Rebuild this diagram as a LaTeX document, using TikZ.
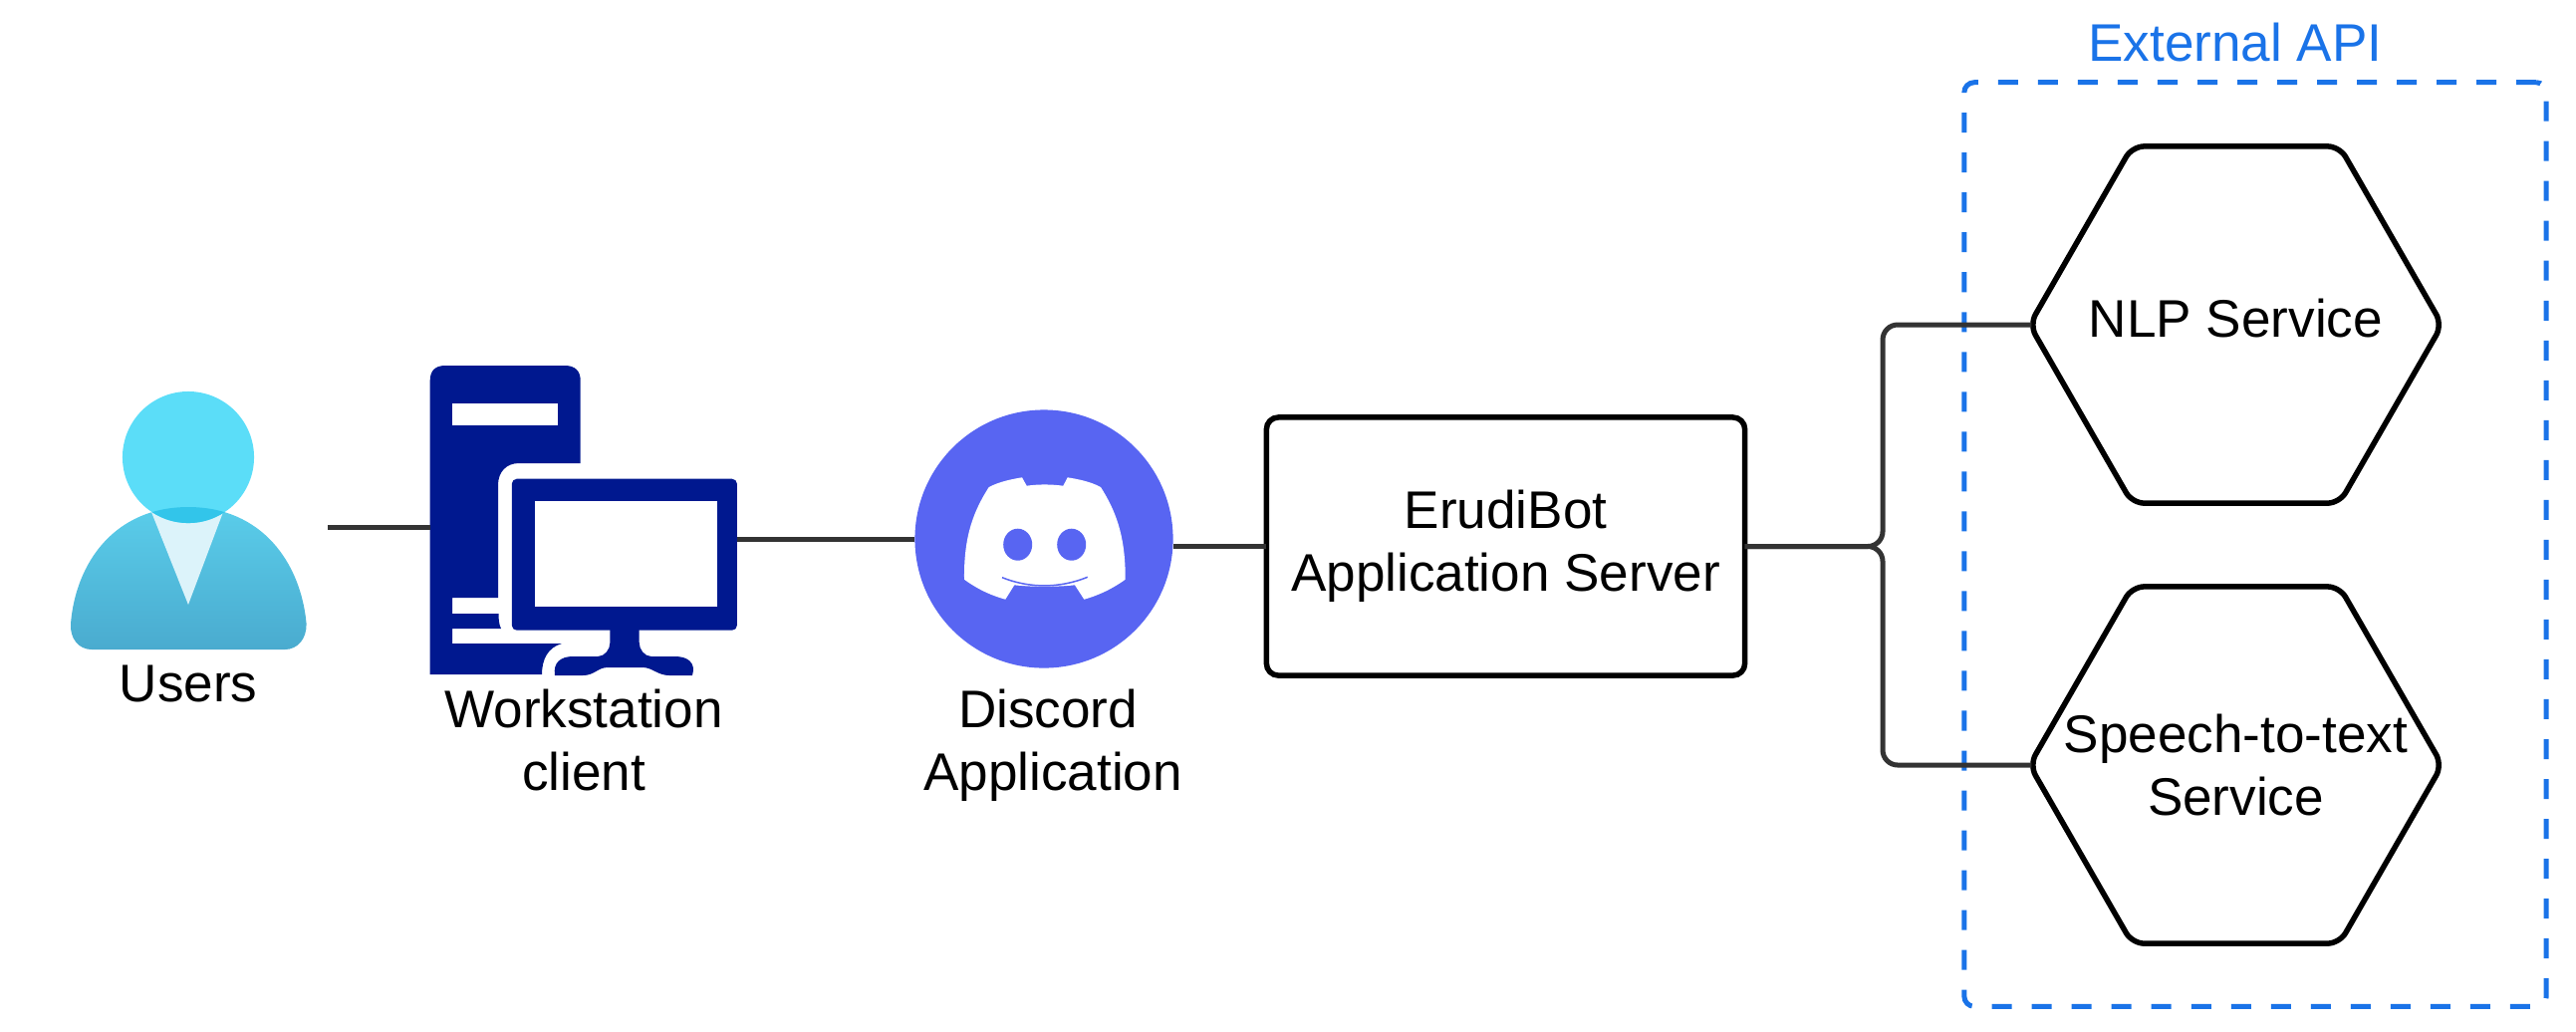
\documentclass[tikz,border=0pt]{standalone}
\usepackage{fontspec}
\setmainfont{Liberation Sans}
\usepackage{xcolor}
\usetikzlibrary{shapes.geometric, positioning}
\definecolor{linkgrey}{HTML}{333333}
\definecolor{apiblue}{HTML}{1A73E8}
\definecolor{headcyan}{HTML}{5BDDF8}
\definecolor{overlapcyan}{HTML}{32C5EA}
\definecolor{bodytop}{HTML}{5ACDEA}
\definecolor{bodybottom}{HTML}{4AABCF}
\definecolor{tiepale}{HTML}{DCF3FA}
\definecolor{worknavy}{HTML}{00188F}
\definecolor{discordblue}{HTML}{5865F2}
\tikzset{
  caption/.style={inner sep=0pt, outer sep=0pt, align=center, font=\fontsize{15.1}{17.9}\selectfont},
  iconbox/.style={inner sep=0pt, outer sep=0pt},
  servicehex/.style={caption, minimum width=4.14cm, minimum height=3.58cm},
  hexline/.style={draw=black, line width=0.055cm, rounded corners=0.12cm},
  link/.style={draw=linkgrey, line width=0.05cm, rounded corners=0.15cm}
}
\begin{document}
\begin{tikzpicture}[x=0.01cm, y=-0.01cm, font=\fontsize{15.1}{17.9}\selectfont]
  \useasboundingbox (0,0) rectangle (2586,1035);

  % External API frame
  \node[iconbox, draw=apiblue, line width=0.05cm, dash pattern=on 0.2cm off 0.2cm, rounded corners=0.1cm,
    minimum width=5.84cm, minimum height=9.27cm] (api) at (2264,546.5) {};
  \node[caption, text=apiblue] (apilabel) at (2244,43) {External API};

  % Services
  \node[servicehex] (nlp) at (2244.5,326) {\raisebox{0.13cm}{NLP Service}};
  \node[servicehex] (speech) at (2244.5,768) {Speech-to-text\\Service};
  \foreach \svc in {nlp,speech}
    \draw[hexline] (\svc.west) -- ([xshift=1.03cm]\svc.north west) -- ([xshift=-1.03cm]\svc.north east)
      -- (\svc.east) -- ([xshift=-1.03cm]\svc.south east) -- ([xshift=1.03cm]\svc.south west) -- cycle;

  % Application server
  \node[caption, draw=black, line width=0.055cm, rounded corners=0.12cm, minimum width=4.8cm, minimum height=2.59cm] (server) at (1511.5,548.5) {ErudiBot\\Application Server};

  % Users icon
  \node[iconbox, minimum width=2.37cm, minimum height=2.6cm] (users) at (189,522) {};
  \draw[top color=bodytop, bottom color=bodybottom, draw=none] (92,652)
    .. controls (79,652) and (70,641) .. (71,626)
    .. controls (76,565) and (115,509) .. (189,509)
    .. controls (263,509) and (302,565) .. (307.6,626)
    .. controls (308,641) and (299,652) .. (286,652) -- cycle;
  \fill[tiepale] (152,514) -- (224,514) -- (189,607) -- cycle;
  \fill[headcyan] (189,459) circle [radius=0.66cm];
  \begin{scope}
    \clip (71,652) -- (71,626) .. controls (76,565) and (115,509) .. (189,509)
      .. controls (263,509) and (302,565) .. (307.6,626) -- (307.6,652) -- cycle;
    \fill[overlapcyan] (189,459) circle [radius=0.66cm];
  \end{scope}
  \node[caption] (userslabel) at (189,686) {Users};

  % Workstation icon
  \node[iconbox, minimum width=3.08cm, minimum height=3.11cm] (station) at (586,522.5) {};
  \fill[worknavy] (431.7,677) -- (431.7,382) .. controls (431.7,372) and (437,367) .. (447,367)
    -- (567,367) .. controls (577,367) and (582.7,372) .. (582.7,382) -- (582.7,465) -- (521,465)
    .. controls (508,465) and (500,474) .. (500,487) -- (500,600) -- (454,600) -- (454,616)
    -- (500.5,616) .. controls (500.5,622) and (501,627) .. (503,631) -- (454,631) -- (454,646)
    -- (564,646) .. controls (550,650) and (544,662) .. (544,677) -- cycle;
  \fill[white] (454,405) rectangle (560,427);
  \fill[worknavy, rounded corners=0.05cm] (513.8,480.7) rectangle (739.9,632.7);
  \fill[white] (537.4,503) rectangle (719.6,609);
  \fill[worknavy] (612.4,630) -- (612.4,645) .. controls (612.4,652) and (607,659) .. (600,659)
    -- (575,659) .. controls (563,659) and (555,665) .. (557,678) -- (585,678)
    .. controls (597,678) and (600,670) .. (610,670) -- (645,670)
    .. controls (655,670) and (660,678) .. (672,678) -- (695,678)
    .. controls (699,665) and (690,659) .. (678,659) -- (654,659)
    .. controls (647,659) and (641.7,652) .. (641.7,645) -- (641.7,630) -- cycle;
  \node[caption] (stationlabel) at (586,743) {Workstation\\client};

  % Discord icon
  \node[iconbox, circle, fill=discordblue, minimum size=2.59cm] (discord) at (1048,541) {};
  \fill[white] (992.7,489) .. controls (1002,484) and (1015,481) .. (1026,479.3) -- (1030.7,487.7)
    .. controls (1042,486) and (1055,486) .. (1067.3,487.7) -- (1071.7,479.3)
    .. controls (1083,481) and (1096,484) .. (1105,489)
    .. controls (1119.3,511.7) and (1130,536.7) .. (1129.7,581.7)
    .. controls (1113.3,593.3) and (1100,598.3) .. (1088.3,601.7) -- (1079,587.3)
    .. controls (1060,589.3) and (1036.7,589.3) .. (1018.3,587.3) -- (1009.3,601.7)
    .. controls (997.3,598.3) and (984,593.3) .. (968,581.7)
    .. controls (967.3,536.7) and (978.3,511.7) .. (992.7,489) -- cycle;
  \fill[discordblue] (1021.7,546.7) ellipse [x radius=0.145cm, y radius=0.16cm];
  \fill[discordblue] (1075.7,546.7) ellipse [x radius=0.145cm, y radius=0.16cm];
  \draw[discordblue, line width=0.015cm] (1006,579.7) .. controls (1033.3,590.7) and (1064,590.7) .. (1091.7,579.3);
  \node[caption] (discordlabel) at (1057,748) {Discord\hspace{0.1cm}\mbox{}\\Application};

  % Connectors
  \coordinate (userend) at (329,529);
  \coordinate (trunk) at (1890,548.5);
  \draw[link] (userend) -- (station.west |- userend);
  \draw[link] (station.east |- discord.west) -- (discord.west);
  \draw[link] (discord.east |- server.west) -- (server.west);
  \draw[link] (server.east) -- (trunk) |- ([xshift=0.02cm]nlp.west);
  \draw[link] (server.east) -- (trunk) |- ([xshift=0.02cm]speech.west);
\end{tikzpicture}
\end{document}
